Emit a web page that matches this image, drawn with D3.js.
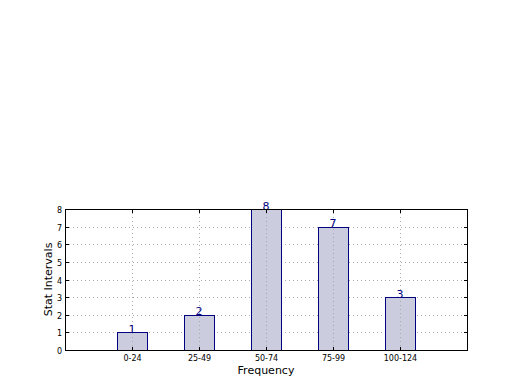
<!DOCTYPE html>
<html>
<head>
<meta charset="utf-8">
<script src="https://cdn.jsdelivr.net/npm/d3@7"></script>
<style>
  body { margin: 0; background: #fff; }
  svg { display: block; font-family: "DejaVu Sans", sans-serif; }
</style>
</head>
<body>
<script>
var categories = ["0-24", "25-49", "50-74", "75-99", "100-124"];
var counts = [1, 2, 8, 7, 3];
var yTicks = [0, 1, 2, 3, 4, 5, 6, 7, 8];

var W = 520, H = 390;
var plotL = 65, plotR = 467, plotT = 209, plotB = 350;

var svg = d3.select("body").append("svg")
  .attr("width", W).attr("height", H);

var x = d3.scaleLinear().domain([-1, 5]).range([plotL, plotR]);
var y = d3.scaleLinear().domain([0, 8]).range([plotB, plotT]);
var barW = 0.45;

// horizontal grid, under the bars
svg.append("g").selectAll("line").data(yTicks.slice(1, -1))
  .enter().append("line")
  .attr("x1", plotL).attr("x2", plotR)
  .attr("y1", function(d) { return Math.round(y(d)) + 0.5; })
  .attr("y2", function(d) { return Math.round(y(d)) + 0.5; })
  .style("stroke", "#aaa").style("stroke-dasharray", "1,3");

// bars
svg.append("g").selectAll("rect").data(counts)
  .enter().append("rect")
  .attr("x", function(d, i) { return Math.round(x(i - barW / 2)) + 0.5; })
  .attr("width", function() { return Math.round(x(barW) - x(0)); })
  .attr("y", function(d) { return Math.round(y(d)) + 0.5; })
  .attr("height", function(d) { return Math.round(plotB - y(d)); })
  .style("fill", "#ccccdf").style("stroke", "#000080").style("stroke-width", 1);

// vertical grid, shows through the bars
svg.append("g").selectAll("line").data(categories)
  .enter().append("line")
  .attr("x1", function(d, i) { return Math.round(x(i)) + 0.5; })
  .attr("x2", function(d, i) { return Math.round(x(i)) + 0.5; })
  .attr("y1", plotT).attr("y2", plotB)
  .style("stroke", "#aaa").style("stroke-dasharray", "1,3");

// value labels
svg.append("g").selectAll("text").data(counts)
  .enter().append("text")
  .attr("x", function(d, i) { return x(i); })
  .attr("y", function(d) { return y(d) + 0.5; })
  .attr("text-anchor", "middle")
  .style("font-size", "11px").style("fill", "#000080")
  .text(function(d) { return d; });

// frame
svg.append("rect")
  .attr("x", plotL + 0.5).attr("y", plotT + 0.5)
  .attr("width", plotR - plotL).attr("height", plotB - plotT)
  .style("fill", "none").style("stroke", "#000").style("stroke-width", 1);

// y ticks (inside, both sides)
var yt = svg.append("g");
yTicks.forEach(function(t) {
  var yy = Math.round(y(t)) + 0.5;
  yt.append("line").attr("x1", plotL).attr("x2", plotL + 4)
    .attr("y1", yy).attr("y2", yy).style("stroke", "#000");
  yt.append("line").attr("x1", plotR - 3).attr("x2", plotR + 1)
    .attr("y1", yy).attr("y2", yy).style("stroke", "#000");
  yt.append("text").attr("x", plotL - 3).attr("y", yy + 3)
    .attr("text-anchor", "end").style("font-size", "8px")
    .text(t);
});

// x ticks
var xt = svg.append("g");
categories.forEach(function(c, i) {
  var xx = Math.round(x(i)) + 0.5;
  xt.append("line").attr("x1", xx).attr("x2", xx)
    .attr("y1", plotB - 3).attr("y2", plotB + 1).style("stroke", "#000");
  xt.append("line").attr("x1", xx).attr("x2", xx)
    .attr("y1", plotT).attr("y2", plotT + 4).style("stroke", "#000");
  xt.append("text").attr("x", xx).attr("y", plotB + 11)
    .attr("text-anchor", "middle").style("font-size", "8px")
    .text(c);
});

// axis labels
svg.append("text").attr("x", (plotL + plotR) / 2).attr("y", 374)
  .attr("text-anchor", "middle").style("font-size", "11px")
  .text("Frequency");
svg.append("text")
  .attr("transform", "translate(52," + (plotT + plotB) / 2 + ") rotate(-90)")
  .attr("text-anchor", "middle").style("font-size", "11px")
  .text("Stat Intervals");
</script>
</body>
</html>
